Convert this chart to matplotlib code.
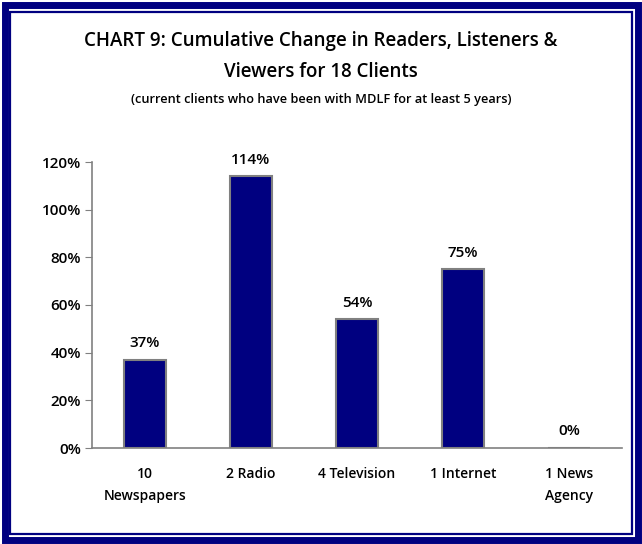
import matplotlib.pyplot as plt
from matplotlib.patches import Rectangle
from matplotlib.ticker import FuncFormatter

# Datos del gráfico
categorias = ["10\nNewspapers", "2 Radio", "4 Television", "1 Internet", "1 News\nAgency"]
valores = [37, 114, 54, 75, 0]
yticks = [0, 20, 40, 60, 80, 100, 120]

navy = "#000080"
plt.rcParams['font.family'] = ['Open Sans', 'DejaVu Sans']
peso = 600

fig = plt.figure(figsize=(6.42, 5.44), dpi=100)
W, H = 642, 544

# Marco doble alrededor de la figura
fig.patches.append(Rectangle((4.5 / W, 4.5 / H), 1 - 9 / W, 1 - 9 / H, transform=fig.transFigure,
                             fill=False, edgecolor=navy, linewidth=5, zorder=0))
fig.patches.append(Rectangle((10.5 / W, 10 / H), 1 - 21 / W, 1 - 22 / H, transform=fig.transFigure,
                             fill=False, edgecolor=navy, linewidth=1.6, zorder=0))

ax = fig.add_axes([92 / W, 1 - 448 / H, 530 / W, 286 / H])
x = range(len(categorias))
ax.bar(x, valores, width=0.4, color=navy, edgecolor="#808080", linewidth=1.5)

for i, v in enumerate(valores):
    ax.annotate(f"{v}%", (i, v), xytext=(0, 7), textcoords="offset points",
                ha="center", va="bottom", fontsize=11, fontweight=peso)

ax.set_xlim(-0.5, len(categorias) - 0.5)
ax.set_ylim(0, 120)
ax.set_yticks(yticks)
ax.yaxis.set_major_formatter(FuncFormatter(lambda v, p: f"{v:.0f}%"))
ax.set_xticks(list(x))
ax.set_xticklabels(categorias, fontsize=10, fontweight=peso, linespacing=1.7)
ax.tick_params(axis="x", length=0, pad=14)
ax.tick_params(axis="y", length=5, color="#808080", labelsize=11, pad=3)
for lbl in ax.get_yticklabels():
    lbl.set_fontweight(peso)

for s in ["top", "right"]:
    ax.spines[s].set_visible(False)
for s in ["left", "bottom"]:
    ax.spines[s].set_color("#808080")
    ax.spines[s].set_linewidth(1.2)

fig.text(0.5, 1 - 41 / H, "CHART 9: Cumulative Change in Readers, Listeners &",
         ha="center", va="center", fontsize=13.5, fontweight=peso)
fig.text(0.5, 1 - 72 / H, "Viewers for 18 Clients",
         ha="center", va="center", fontsize=13.5, fontweight=peso)
fig.text(0.5, 1 - 99 / H, "(current clients who have been with MDLF for at least 5 years)",
         ha="center", va="center", fontsize=9.2, fontweight=peso)

fig.savefig("out.png", dpi=100)
